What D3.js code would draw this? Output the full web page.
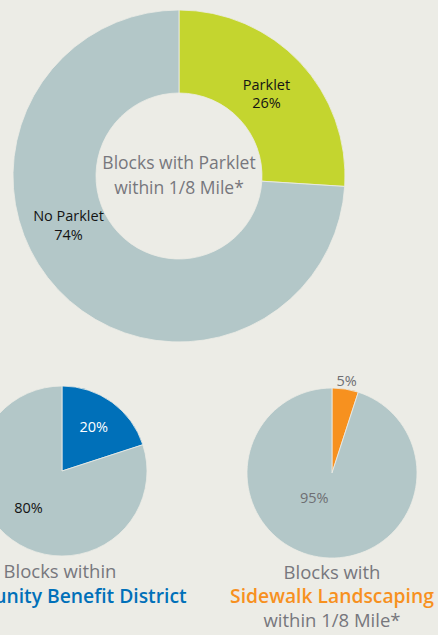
<!DOCTYPE html>
<html>
<head>
<meta charset="utf-8">
<script src="https://cdn.jsdelivr.net/npm/d3@7"></script>
<style>
  html, body { margin: 0; padding: 0; background: #ecece6; }
  svg { display: block; }
  text { font-family: "Open Sans", "Noto Sans", sans-serif; }
</style>
</head>
<body>
<svg id="chart" width="438" height="635"></svg>
<script>
// ---- Data ----
const parkletCategories = ["Parklet", "No Parklet"];
const parkletValues = [26, 74];
const parkletTitle = ["Blocks with Parklet", "within 1/8 Mile*"];

const cbdCategories = ["Within CBD", "Not within CBD"];
const cbdValues = [20, 80];
const cbdTitle = ["Blocks within", "Community Benefit District"];

const landscapeCategories = ["Sidewalk Landscaping", "No Sidewalk Landscaping"];
const landscapeValues = [5, 95];
const landscapeTitle = ["Blocks with", "Sidewalk Landscaping", "within 1/8 Mile*"];

// ---- Styles / layout ----
const bg = "#ecece6";
const grayFill = "#b3c7c8";
const titleGray = "#77777d";

const svg = d3.select("#chart");
svg.append("rect").attr("width", 438).attr("height", 635).attr("fill", bg);

const pie = d3.pie().sort(null).value(d => d.value).startAngle(0).endAngle(2 * Math.PI);

function drawPie(opts) {
  const data = opts.categories.map((c, i) => ({ name: c, value: opts.values[i] }));
  const arcs = pie(data);
  const g = svg.append("g").attr("transform", `translate(${opts.cx},${opts.cy})`);
  const arc = d3.arc().innerRadius(opts.inner).outerRadius(opts.outer);
  g.selectAll("path.slice").data(arcs).join("path")
    .attr("class", "slice")
    .attr("d", arc)
    .attr("fill", (d, i) => opts.colors[i])
    .attr("stroke", bg).attr("stroke-width", 0.8);

  // labels
  arcs.forEach((d, i) => {
    const lp = opts.labelPos[i];
    const ang = lp.angle !== undefined ? lp.angle * Math.PI / 180 : (d.startAngle + d.endAngle) / 2;
    const r = lp.r;
    const x = Math.sin(ang) * r, y = -Math.cos(ang) * r;
    const lines = opts.labelLines(d, i);
    const t = g.append("text")
      .attr("text-anchor", "middle")
      .attr("font-size", opts.labelSize)
      .attr("fill", opts.labelColors[i]);
    const lh = 18.5;
    const y0 = y - (lines.length - 1) * lh / 2 + opts.labelSize * 0.35;
    lines.forEach((ln, k) => {
      t.append("tspan").attr("x", x).attr("y", y0 + k * lh).text(ln);
    });
  });
  return g;
}

const pct = d => `${d.value}%`;

// Donut
const donut = drawPie({
  categories: parkletCategories, values: parkletValues,
  cx: 179, cy: 176, inner: 83, outer: 166,
  colors: ["#c4d52f", grayFill],
  labelColors: ["#141414", "#141414"],
  labelSize: 14.5,
  labelPos: [{ r: 120 }, { angle: 246, r: 121 }],
  labelLines: d => [d.data.name, pct(d)]
});
donut.append("text").attr("text-anchor", "middle").attr("font-size", 17.5).attr("fill", titleGray)
  .selectAll("tspan").data(parkletTitle).join("tspan")
  .attr("x", 0).attr("y", (d, i) => -7 + i * 24.5).text(d => d);

// CBD pie
drawPie({
  categories: cbdCategories, values: cbdValues,
  cx: 62, cy: 471, inner: 0, outer: 85,
  colors: ["#0070b9", grayFill],
  labelColors: ["#ffffff", "#141414"],
  labelSize: 14.5,
  labelPos: [{ r: 54 }, { angle: 222, r: 50 }],
  labelLines: d => [pct(d)]
});
const cbdT = svg.append("text").attr("text-anchor", "middle").attr("font-size", 18.5);
cbdT.append("tspan").attr("x", 60).attr("y", 578).attr("fill", titleGray).text(cbdTitle[0]);
cbdT.append("tspan").attr("x", 60).attr("y", 603).attr("fill", "#0070b9").attr("font-weight", 600).attr("font-size", 19.3).text(cbdTitle[1]);

// Landscape pie
drawPie({
  categories: landscapeCategories, values: landscapeValues,
  cx: 332, cy: 473, inner: 0, outer: 85,
  colors: ["#f7911f", grayFill],
  labelColors: ["#6e6e72", "#6e6e72"],
  labelSize: 14.5,
  labelPos: [{ r: 93 }, { angle: 215, r: 31 }],
  labelLines: d => [pct(d)]
});
const lsT = svg.append("text").attr("text-anchor", "middle").attr("font-size", 18.5);
lsT.append("tspan").attr("x", 332).attr("y", 579).attr("fill", titleGray).text(landscapeTitle[0]);
lsT.append("tspan").attr("x", 332).attr("y", 603).attr("fill", "#f7911f").attr("font-weight", 600).attr("font-size", 19.3).text(landscapeTitle[1]);
lsT.append("tspan").attr("x", 332).attr("y", 627).attr("fill", titleGray).text(landscapeTitle[2]);
</script>
</body>
</html>
